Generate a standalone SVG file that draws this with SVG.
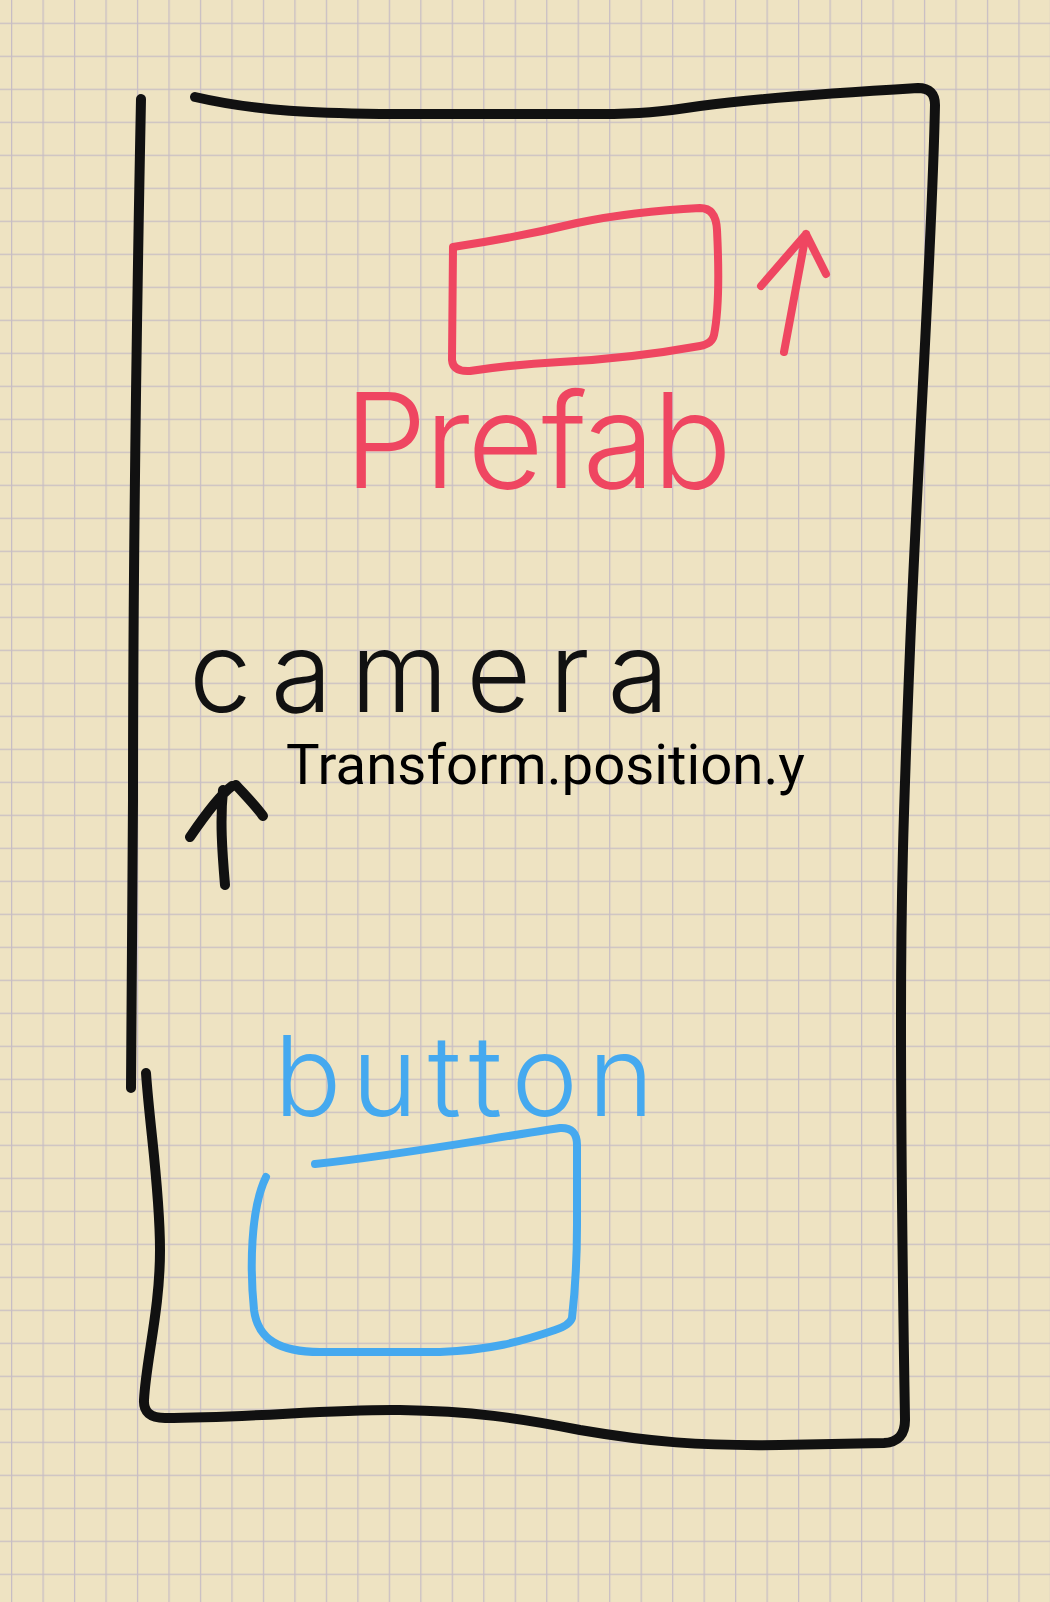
<svg xmlns="http://www.w3.org/2000/svg" width="1050" height="1602" viewBox="0 0 1050 1602">
<defs>
<pattern id="grid" patternUnits="userSpaceOnUse" x="11" y="22.7" width="31.48" height="33">
<path d="M0.6,0 V33 M0,0.6 H31.48" fill="none" stroke="#C7BDC4" stroke-width="1.3"/>
</pattern>
</defs>
<style>
.ink{fill:none;stroke-linecap:round;stroke-linejoin:round}
.black{stroke:#111111;stroke-width:10}
.red{stroke:#EF4661;stroke-width:8}
.blue{stroke:#45A9EF;stroke-width:8}
.hand{font-family:Inter,"Open Sans","Liberation Sans",sans-serif;font-weight:300}
.typed{font-family:Roboto,"Liberation Sans",sans-serif;fill:#000000}
</style>
<rect width="1050" height="1602" fill="#EEE3C2"/>
<rect width="1050" height="1602" fill="url(#grid)"/>

<g id="screen">
<path class="ink black" d="M141,99 C137,300 133,600 133,800 C132,950 131,1020 131,1088"/>
<path class="ink black" d="M146,1073 C150,1130 160,1190 160,1250 C160,1310 146,1360 144,1400 Q143,1418 165,1418 C250,1418 330,1409 400,1410 C470,1411 520,1418 580,1430 C650,1442 700,1446 780,1445 L884,1443 Q905,1442 905,1420 C903,1300 901,1150 901,1020 C901,900 903,820 910,650 C918,450 932,250 935,105 Q935,88 918,88 C850,92 760,98 700,106 C660,112 640,114 600,114 L380,114 C320,113 260,112 195,97"/>
</g>

<g id="prefab">
<path class="ink red" d="M453,247 C500,240 540,232 577,223 C620,214 660,210 700,208 Q716,208 717,230 C719,270 719,310 714,335 Q712,344 700,346 C650,355 600,360 560,362 C520,364 490,368 470,371 Q453,372 452,360 Z"/>
<text class="hand" x="344" y="488" font-size="132" textLength="388" lengthAdjust="spacing" fill="#EF4661">Prefab</text>
</g>

<g id="camera">
<text class="hand" x="189" y="712" font-size="112" textLength="480" lengthAdjust="spacing" fill="#111111">camera</text>
<text class="typed" x="286" y="784" font-size="55" textLength="519" lengthAdjust="spacingAndGlyphs">Transform.position.y</text>
</g>

<g id="button">
<text class="hand" x="274" y="1116" font-size="112" textLength="380" lengthAdjust="spacing" fill="#45A9EF">button</text>
<path class="ink blue" d="M315,1164 C400,1155 480,1140 560,1128 Q577,1127 577,1145 L577,1225 C577,1270 574,1300 572,1318 Q570,1325 555,1330 C520,1342 490,1350 440,1352 L320,1352 C280,1352 258,1340 254,1310 C250,1270 250,1210 266,1177"/>
</g>

<g id="connectors">
<path class="ink red" d="M784,352 L806,234 M761,286 L806,234 L826,274"/>
<path class="ink black" stroke-width="7" d="M225,885 C222,850 220,820 223,790 M190,837 C205,815 220,795 232,786 M236,785 C245,795 255,805 263,816"/>
</g>
</svg>
